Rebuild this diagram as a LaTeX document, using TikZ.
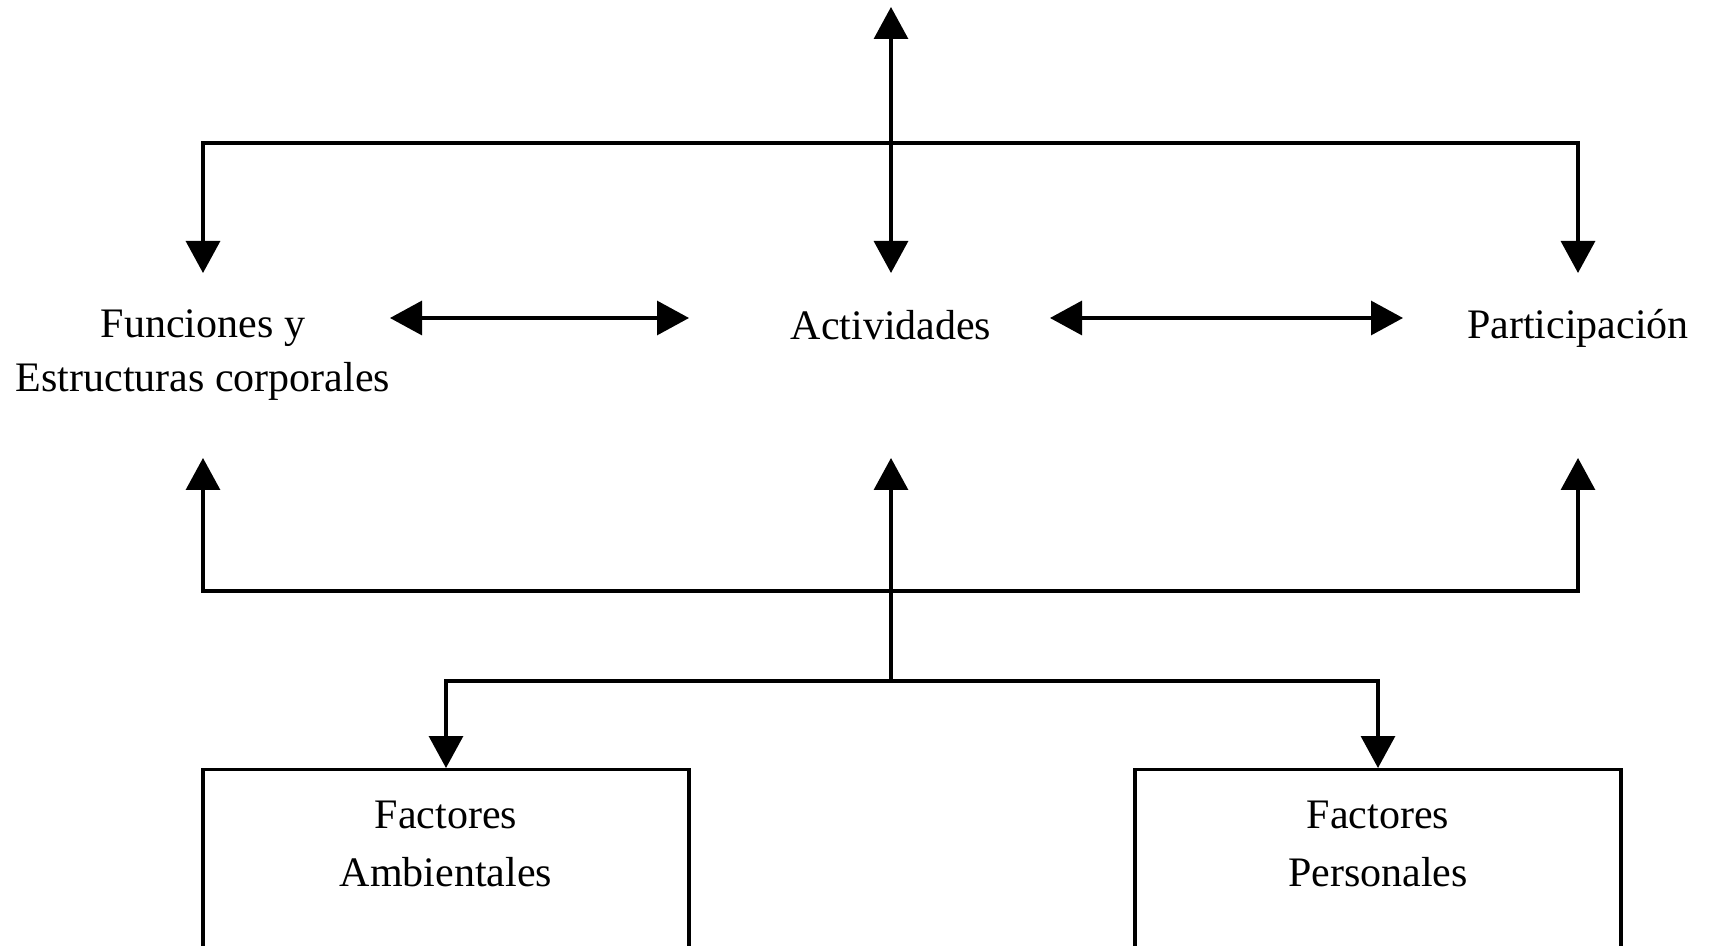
\documentclass[tikz,border=0pt]{standalone}
\usepackage{fontspec}
\setmainfont{Liberation Serif}
\usetikzlibrary{arrows.meta,positioning}
\begin{document}
\begin{tikzpicture}[
		x=0.5pt, y=-0.5pt,
		every node/.style={font=\fontsize{21}{27.25}\selectfont, align=center, inner sep=0},
		link/.style={line width=1.6pt, -{Triangle[length=16pt,width=17pt]}},
		twoway/.style={line width=1.6pt, {Triangle[length=16pt,width=17pt]}-{Triangle[length=16pt,width=17pt]}},
		factorbox/.style={draw, line width=1.6pt, anchor=north, minimum width=243pt, minimum height=150pt},
	]
	\useasboundingbox (0,0) rectangle (1709,946);
	\clip (0,0) rectangle (1709,946);
	\node (funciones) at (203,355) {Funciones y\\Estructuras corporales};
	\node (actividades) at (891,325) {Actividades};
	\node (participacion) at (1578,328) {Participación};
	\node[factorbox] (ambientales) at (446,768) {};
	\node (ambtext) at (446,844) {Factores\\[2pt]Ambientales};
	\node[factorbox] (personales) at (1378,768) {};
	\node (pertext) at (1378,844) {Factores\\[2pt]Personales};
	% free ends of the connectors
	\coordinate (up) at (891,7);
	\coordinate (fun-in) at (203,273);
	\coordinate (act-in) at (891,273);
	\coordinate (par-in) at (1578,273);
	\coordinate (fun-out) at (203,458);
	\coordinate (act-out) at (891,458);
	\coordinate (par-out) at (1578,458);
	\coordinate (fork) at (891,681);
	\coordinate (fa-l) at (390,318);
	\coordinate (fa-r) at (689,318);
	\coordinate (ap-l) at (1050,318);
	\coordinate (ap-r) at (1403,318);
	\draw[twoway] (up) -- (act-in);
	\draw[twoway] (fun-in) -- ++(0,-130) -| (par-in);
	\draw[twoway] (fun-out) -- ++(0,133) -| (par-out);
	\draw[twoway] (fa-l) -- (fa-r);
	\draw[twoway] (ap-l) -- (ap-r);
	\draw[link] (fork) -- (act-out);
	\draw[link] (fork) -| (ambientales.north);
	\draw[link] (fork) -| (personales.north);
\end{tikzpicture}
\end{document}
